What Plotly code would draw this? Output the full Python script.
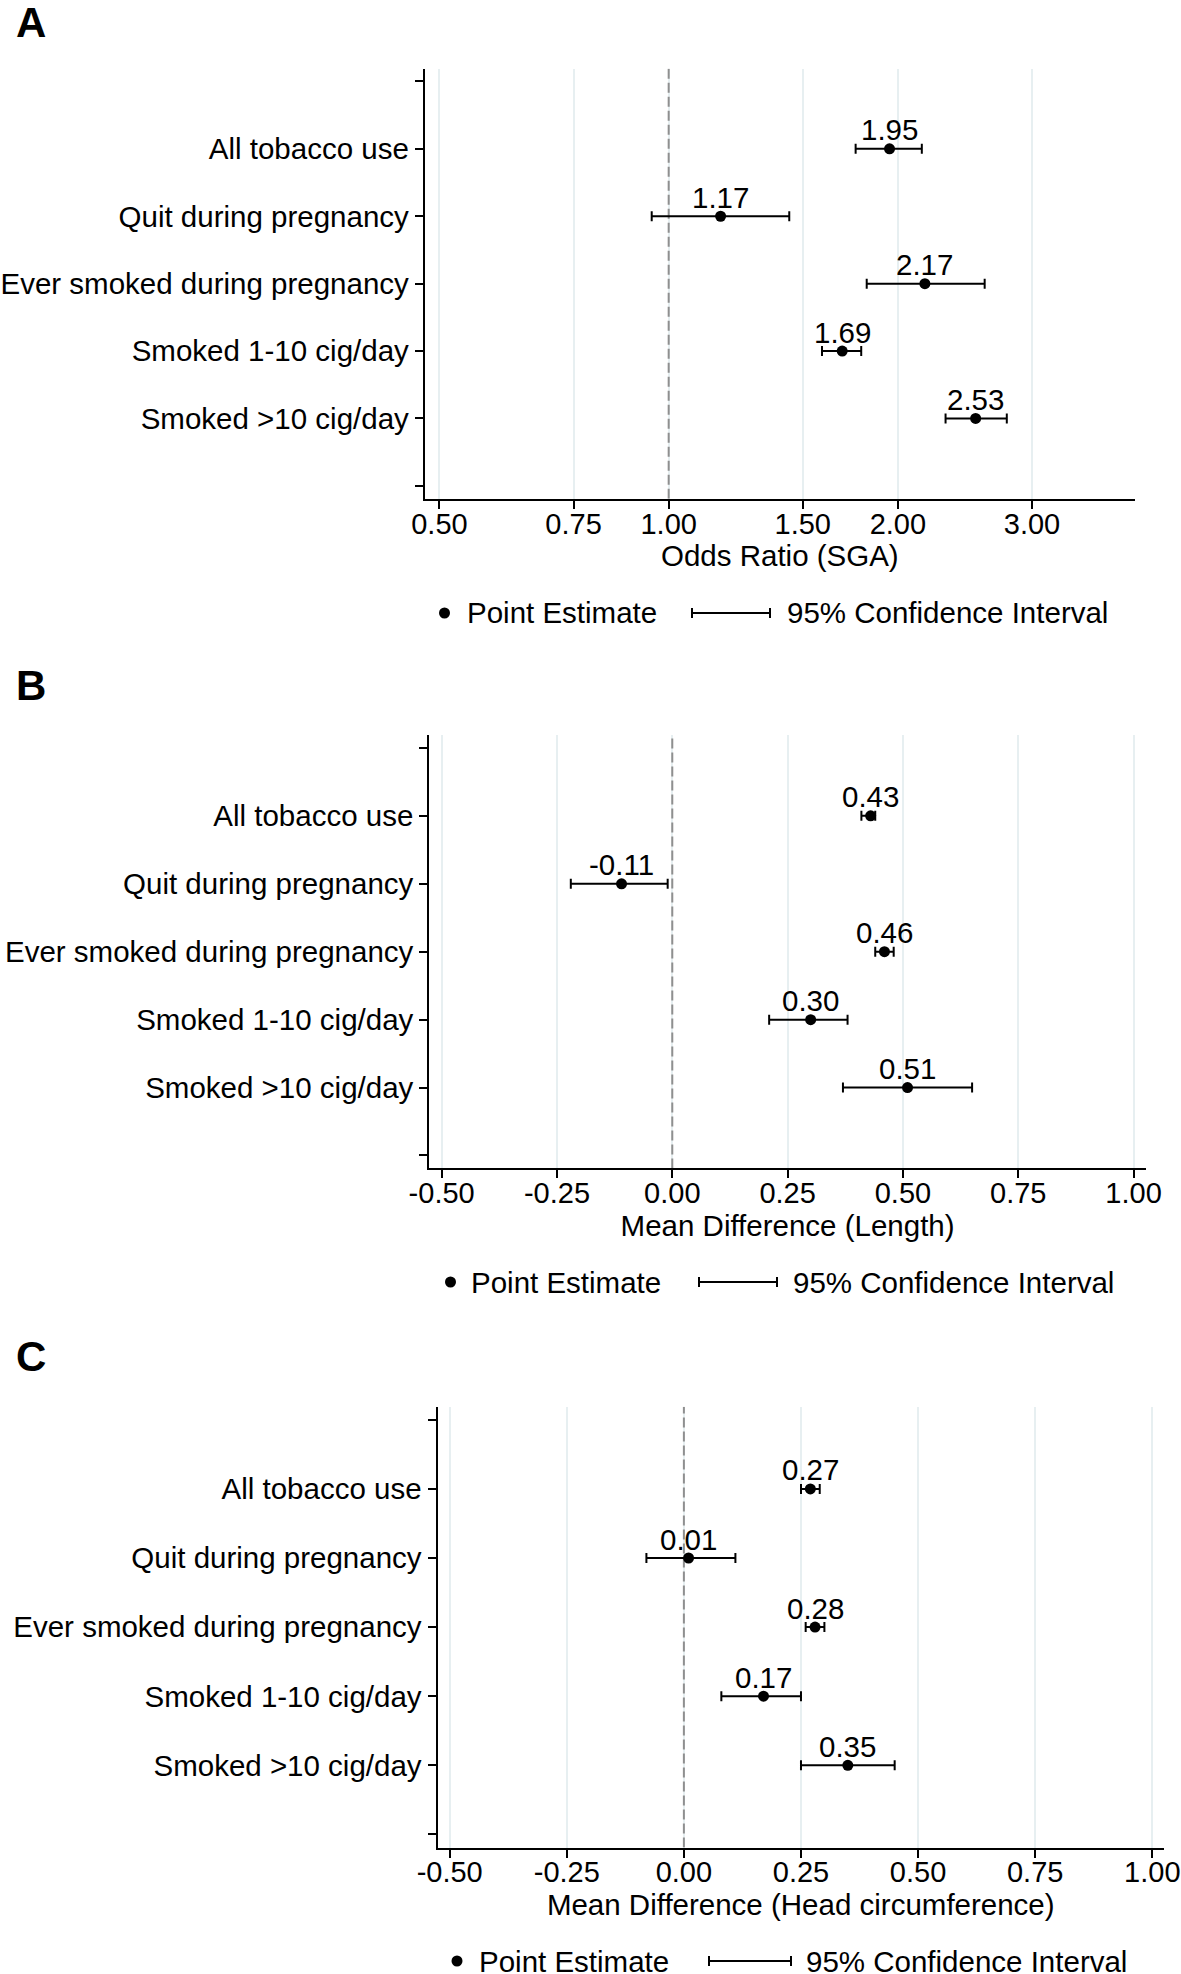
import numpy as np
import plotly.graph_objects as go

# ---------------- data ----------------
categories = ["All tobacco use", "Quit during pregnancy", "Ever smoked during pregnancy",
              "Smoked 1-10 cig/day", "Smoked >10 cig/day"]

sga_or = [1.95, 1.17, 2.17, 1.69, 2.53]
sga_lo = [1.76, 0.95, 1.82, 1.59, 2.31]
sga_hi = [2.15, 1.44, 2.60, 1.79, 2.78]

len_md = [0.43, -0.11, 0.46, 0.30, 0.51]
len_lo = [0.41, -0.22, 0.44, 0.21, 0.37]
len_hi = [0.44, -0.01, 0.48, 0.38, 0.65]

hc_md = [0.27, 0.01, 0.28, 0.17, 0.35]
hc_lo = [0.25, -0.08, 0.26, 0.08, 0.25]
hc_hi = [0.29, 0.11, 0.30, 0.25, 0.45]

or_ticks = [0.5, 0.75, 1.0, 1.5, 2.0, 3.0]
or_ticklabels = ["0.50", "0.75", "1.00", "1.50", "2.00", "3.00"]
md_ticks = [-0.5, -0.25, 0.0, 0.25, 0.5, 0.75, 1.0]
md_ticklabels = ["-0.50", "-0.25", "0.00", "0.25", "0.50", "0.75", "1.00"]

reference_values = [1.0, 0.0, 0.0]
panel_letters = ["A", "B", "C"]
x_titles = ["Odds Ratio (SGA)", "Mean Difference (Length)", "Mean Difference (Head circumference)"]
legend_labels = ["Point Estimate", "95% Confidence Interval"]

# ---------------- layout (pixels) ----------------
W, H = 1181, 1974
FONT = "Liberation Sans, Arial, Helvetica, sans-serif"
FS = 29.5
TICK_FS = 29
YRANGE = [6.19, -0.19]


def fx(p):
    return p / W


def fy(p):
    return 1 - p / H


panels = [
    dict(est=sga_or, lo=sga_lo, hi=sga_hi, log=True, ticks=or_ticks, labels=or_ticklabels,
         xpx=(424.7, 1135.0), ypx=(68.6, 498.7),
         xrange=[-0.3204, 0.6124], letter_y=22, legend=dict(y=613, dot=444.5, t1=465, l0=692, l1=770, t2=785)),
    dict(est=len_md, lo=len_lo, hi=len_hi, log=False, ticks=md_ticks, labels=md_ticklabels,
         xpx=(429.2, 1146.0), ypx=(735.0, 1168.4),
         xrange=[-0.527, 1.027], letter_y=686, legend=dict(y=1282, dot=450.5, t1=468.5, l0=699, l1=777, t2=791)),
    dict(est=hc_md, lo=hc_lo, hi=hc_hi, log=False, ticks=md_ticks, labels=md_ticklabels,
         xpx=(437.5, 1164.0), ypx=(1406.7, 1847.5),
         xrange=[-0.526, 1.025], letter_y=1356, legend=dict(y=1961, dot=457, t1=477, l0=709, l1=791, t2=804)),
]

fig = go.Figure()
annotations = []
shapes = []
ypos = list(range(1, len(categories) + 1))
layout_axes = {}

for i, p in enumerate(panels):
    n = "" if i == 0 else str(i + 1)
    xa, ya = "x" + n, "y" + n
    est = np.array(p["est"], dtype=float)
    lo = np.array(p["lo"], dtype=float)
    hi = np.array(p["hi"], dtype=float)
    ref = reference_values[i]

    # dashed reference line (beneath the estimates)
    fig.add_trace(go.Scatter(
        x=[ref, ref], y=YRANGE, xaxis=xa, yaxis=ya, mode="lines",
        line=dict(color="#8f8f8f", width=2, dash="10px,4px"),
        showlegend=False, hoverinfo="skip", cliponaxis=True,
    ))

    fig.add_trace(go.Scatter(
        x=est, y=ypos, xaxis=xa, yaxis=ya, mode="markers",
        marker=dict(color="black", size=11, symbol="circle"),
        error_x=dict(type="data", symmetric=False, array=hi - est, arrayminus=est - lo,
                     color="black", thickness=2, width=5),
        showlegend=False, hoverinfo="skip",
    ))

    # value labels above the points
    for v, yy in zip(est, ypos):
        annotations.append(dict(
            x=float(np.log10(v)) if p["log"] else float(v), y=yy, xref=xa, yref=ya,
            text=f"{v:.2f}", showarrow=False, xanchor="center", yanchor="middle", yshift=19,
            font=dict(family=FONT, size=FS, color="black"),
        ))

    xdom = [fx(p["xpx"][0]), fx(p["xpx"][1])]
    ydom = [fy(p["ypx"][1]), fy(p["ypx"][0])]
    layout_axes["xaxis" + n] = dict(
        domain=xdom, anchor=ya, type="log" if p["log"] else "linear", range=p["xrange"],
        tickmode="array", tickvals=p["ticks"], ticktext=p["labels"],
        showgrid=True, gridcolor="#e7eff1", gridwidth=2, zeroline=False,
        showline=True, linecolor="black", linewidth=2,
        ticks="outside", ticklen=8, tickwidth=2, tickcolor="black",
        ticklabelstandoff=-10, ticklabeloverflow="allow",
        tickfont=dict(family=FONT, size=TICK_FS, color="black"),
        title=dict(text=x_titles[i], font=dict(family=FONT, size=FS, color="black"), standoff=6),
        automargin=False, fixedrange=True,
    )
    layout_axes["yaxis" + n] = dict(
        domain=ydom, anchor=xa, range=YRANGE,
        tickmode="array", tickvals=list(range(0, len(categories) + 2)),
        ticktext=[""] + categories + [""],
        showgrid=False, zeroline=False,
        showline=True, linecolor="black", linewidth=2,
        ticks="outside", ticklen=8, tickwidth=2, tickcolor="black",
        ticklabeloverflow="allow",
        tickfont=dict(family=FONT, size=FS, color="black"),
        automargin=False, fixedrange=True,
    )

    # panel letter
    annotations.append(dict(x=fx(14), y=fy(p["letter_y"]), xref="paper", yref="paper",
                            text="<b>" + panel_letters[i] + "</b>", showarrow=False,
                            xanchor="left", yanchor="middle",
                            font=dict(family=FONT, size=42, color="black")))

    # legend (drawn)
    lg = p["legend"]
    r = 5.5
    shapes.append(dict(type="circle", xref="paper", yref="paper",
                       x0=fx(lg["dot"] - r), x1=fx(lg["dot"] + r),
                       y0=fy(lg["y"] + r), y1=fy(lg["y"] - r),
                       fillcolor="black", line=dict(color="black", width=0)))
    annotations.append(dict(x=fx(lg["t1"]), y=fy(lg["y"]), xref="paper", yref="paper",
                            text=legend_labels[0], showarrow=False, xanchor="left", yanchor="middle",
                            font=dict(family=FONT, size=FS, color="black")))
    shapes.append(dict(type="line", xref="paper", yref="paper",
                       x0=fx(lg["l0"]), x1=fx(lg["l1"]), y0=fy(lg["y"]), y1=fy(lg["y"]),
                       line=dict(color="black", width=2)))
    for xx in (lg["l0"], lg["l1"]):
        shapes.append(dict(type="line", xref="paper", yref="paper",
                           x0=fx(xx), x1=fx(xx), y0=fy(lg["y"] - 5), y1=fy(lg["y"] + 5),
                           line=dict(color="black", width=2)))
    annotations.append(dict(x=fx(lg["t2"]), y=fy(lg["y"]), xref="paper", yref="paper",
                            text=legend_labels[1], showarrow=False, xanchor="left", yanchor="middle",
                            font=dict(family=FONT, size=FS, color="black")))

fig.update_layout(
    width=W, height=H, template="none",
    margin=dict(l=0, r=0, t=0, b=0, pad=0),
    paper_bgcolor="white", plot_bgcolor="white",
    showlegend=False,
    annotations=annotations, shapes=shapes,
    font=dict(family=FONT, size=FS, color="black"),
    **layout_axes,
)

fig.write_html("out.html", config={"displayModeBar": False},
               post_script="document.body.style.margin='0';")
